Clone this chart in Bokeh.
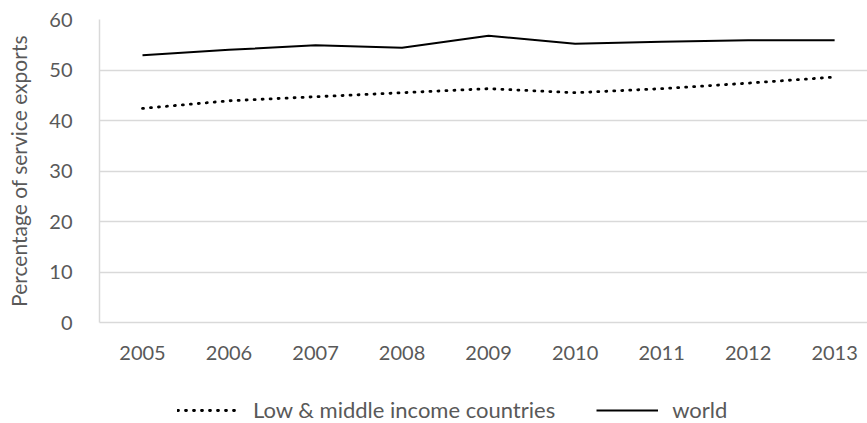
from bokeh.plotting import figure
from bokeh.models import Range1d, FixedTicker, Legend, LegendItem
from bokeh.layouts import column
from bokeh.embed import file_html
from bokeh.resources import INLINE

years = [2005, 2006, 2007, 2008, 2009, 2010, 2011, 2012, 2013]
low_middle = [42.4, 43.9, 44.7, 45.5, 46.3, 45.5, 46.3, 47.4, 48.6]
world = [52.9, 54.0, 54.9, 54.4, 56.8, 55.2, 55.6, 55.9, 55.9]
y_ticks = [0, 10, 20, 30, 40, 50, 60]
series_names = ["Low & middle income countries", "world"]
y_label = "Percentage of service exports"

FONT = "Lato"
TXT = "#595959"
GRID = "#d9d9d9"
DOT = dict(line_color="black", line_width=2.8, line_dash="1 7", line_cap="round")
SOLID = dict(line_color="black", line_width=2)

p = figure(width=867, height=390, output_backend="svg", toolbar_location=None,
           x_range=Range1d(2004.503, 2013.38), y_range=Range1d(0, 60),
           min_border_left=99, min_border_right=0, min_border_top=19, min_border_bottom=68)
p.outline_line_color = None
p.background_fill_color = "white"
p.border_fill_color = "white"

p.line(years, low_middle, **DOT)
p.line(years, world, **SOLID)

p.xaxis.ticker = FixedTicker(ticks=years)
p.yaxis.ticker = FixedTicker(ticks=y_ticks)
for ax in (p.xaxis[0], p.yaxis[0]):
    ax.major_tick_line_color = None
    ax.minor_tick_line_color = None
    ax.major_tick_out = 0
    ax.minor_tick_out = 0
    ax.axis_line_color = GRID
    ax.axis_line_width = 1.5
    ax.major_label_text_font = FONT
    ax.major_label_text_font_size = "20px"
    ax.major_label_text_color = TXT
p.xaxis.major_label_standoff = 23
p.yaxis.major_label_standoff = 27
p.yaxis.axis_label = y_label
p.yaxis.axis_label_text_font = FONT
p.yaxis.axis_label_text_font_size = "21px"
p.yaxis.axis_label_text_font_style = "normal"
p.yaxis.axis_label_text_color = TXT
p.yaxis.axis_label_standoff = 15

p.xgrid.grid_line_color = None
p.ygrid.grid_line_color = GRID
p.ygrid.grid_line_width = 1.5

# legend strip below the chart (its own lines lie outside its visible range)
q = figure(width=867, height=33, output_backend="svg", toolbar_location=None,
           x_range=Range1d(0, 1), y_range=Range1d(0, 1),
           x_axis_location=None, y_axis_location=None,
           min_border_left=0, min_border_right=0, min_border_top=0, min_border_bottom=0)
q.grid.visible = False
q.outline_line_color = None
q.border_fill_color = "white"
q.background_fill_color = "white"
l1 = q.line(years, low_middle, **DOT)
l2 = q.line(years, world, **SOLID)

legend = Legend(items=[LegendItem(label=series_names[0], renderers=[l1]),
                       LegendItem(label=series_names[1], renderers=[l2])],
                orientation="horizontal", location=(78, 0))
legend.padding = 0
legend.margin = 0
legend.spacing = 41
legend.glyph_width = 62
legend.glyph_height = 18
legend.label_height = 18
legend.label_standoff = 14
legend.label_text_font = FONT
legend.label_text_font_size = "22px"
legend.label_text_color = TXT
legend.border_line_color = None
legend.background_fill_alpha = 0
q.add_layout(legend, "center")

layout = column(p, q, spacing=0)
open("out.html", "w").write(file_html(layout, INLINE))
